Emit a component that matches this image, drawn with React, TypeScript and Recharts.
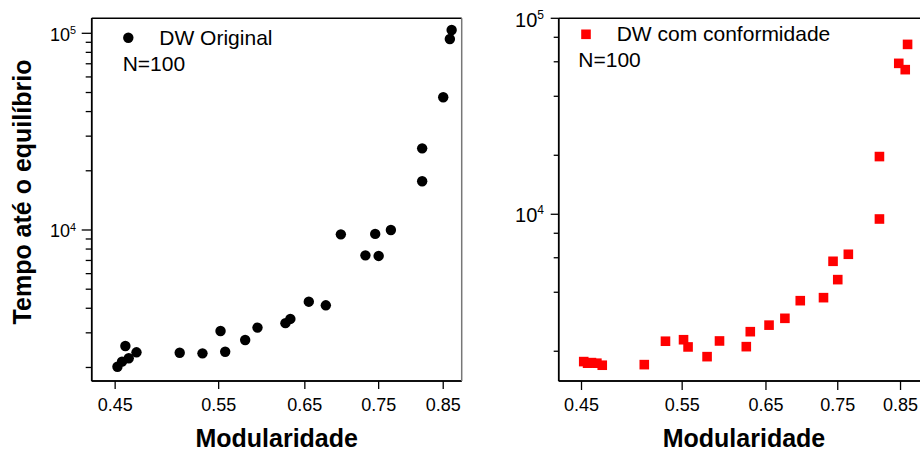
import React from 'react';
import { ScatterChart, Scatter, XAxis, YAxis } from 'recharts';

// ---- data ----
const xTicks = [0.45, 0.55, 0.65, 0.75, 0.85];
const leftYTicks = [2000, 3000, 4000, 5000, 6000, 7000, 8000, 9000, 10000, 20000, 30000, 40000, 50000, 60000, 70000, 80000, 90000, 100000];
const rightYTicks = [2000, 4000, 6000, 8000, 10000, 20000, 40000, 60000, 80000, 100000];

const originalX = [0.864, 0.861, 0.850, 0.816, 0.816, 0.768, 0.745, 0.697, 0.731, 0.750, 0.677, 0.655, 0.632, 0.626, 0.593, 0.579, 0.552, 0.557, 0.533, 0.510, 0.469, 0.459, 0.462, 0.456, 0.452];
const originalY = [104000, 93500, 47300, 26000, 17700, 10000, 9550, 9500, 7430, 7380, 4140, 4320, 3530, 3360, 3190, 2760, 3065, 2405, 2360, 2376, 2388, 2571, 2227, 2141, 2018];

const conformX = [0.862, 0.847, 0.858, 0.815, 0.815, 0.766, 0.743, 0.750, 0.729, 0.696, 0.675, 0.654, 0.630, 0.625, 0.5925, 0.578, 0.5515, 0.5565, 0.532, 0.510, 0.469, 0.464, 0.459, 0.4555, 0.452];
const conformY = [73600, 58900, 54700, 19700, 9460, 6250, 5755, 4640, 3754, 3623, 2945, 2718, 2517, 2111, 2257, 1877, 2290, 2104, 2250, 1709, 1697, 1738, 1750, 1738, 1771];

const leftData = originalX.map((x, i) => ({ x, y: originalY[i] }));
const rightData = conformX.map((x, i) => ({ x, y: conformY[i] }));

const FONT = '"Liberation Sans", Arial, Helvetica, sans-serif';

const isMajor = (v: number) => {
  const e = Math.log10(v);
  return Math.abs(e - Math.round(e)) < 1e-9;
};

const makeYTick = (axisX: number, majorLen: number, minorLen: number, fontSize: number, labelRight: number, supDy: number) => (props: any) => {
  const { y, payload } = props;
  const v = payload.value as number;
  const major = isMajor(v);
  const len = major ? majorLen : minorLen;
  return (
    <g>
      <line x1={axisX} x2={axisX - len} y1={y} y2={y} stroke="#000" strokeWidth={1.3} />
      {major && (
        <text x={labelRight} y={y + fontSize * 0.41} textAnchor="end" fontSize={fontSize} fontFamily={FONT} fill="#000">
          10
          <tspan dy={-fontSize * supDy} fontSize={fontSize * 0.6}>{Math.round(Math.log10(v))}</tspan>
        </text>
      )}
    </g>
  );
};

const makeXTick = (axisY: number, len: number, fontSize: number, labelY: number) => (props: any) => {
  const { x, payload } = props;
  return (
    <g>
      <line x1={x} x2={x} y1={axisY} y2={axisY + len} stroke="#000" strokeWidth={1.3} />
      <text x={x} y={labelY} textAnchor="middle" fontSize={fontSize} fontFamily={FONT} fill="#000">
        {(payload.value as number).toFixed(2)}
      </text>
    </g>
  );
};

const CircleShape = (props: any) => <circle cx={props.cx} cy={props.cy} r={5.2} fill="#000" />;
const SquareShape = (props: any) => <rect x={props.cx - 4.8} y={props.cy - 4.8} width={9.6} height={9.6} fill="#ff0000" />;

export default function App() {
  return (
    <div style={{ position: 'absolute', left: 0, top: 0, width: 920, height: 454, overflow: 'hidden', background: '#fff' }}>
      {/* Left panel */}
      <div style={{ position: 'absolute', left: 0, top: 0 }}>
        <ScatterChart width={470} height={454} margin={{ top: 18.3, right: 8.3, bottom: 0, left: 0 }}>
          <XAxis
            type="number"
            dataKey="x"
            scale="log"
            domain={[0.43, 0.881]}
            allowDataOverflow
            ticks={xTicks}
            interval={0}
            height={73}
            tickLine={false}
            axisLine={{ stroke: '#000', strokeWidth: 1.5 }}
            tick={makeXTick(381, 8, 18, 411)}
          />
          <YAxis
            type="number"
            dataKey="y"
            scale="log"
            domain={[1707, 119200]}
            allowDataOverflow
            ticks={leftYTicks}
            interval={0}
            width={91.7}
            tickLine={false}
            axisLine={{ stroke: '#000', strokeWidth: 1.5 }}
            tick={makeYTick(91.7, 10, 6, 18, 76, 0.38)}
          />
          <Scatter data={leftData} isAnimationActive={false} shape={CircleShape} />
        </ScatterChart>
      </div>

      {/* Right panel */}
      <div style={{ position: 'absolute', left: 460, top: 0 }}>
        <ScatterChart width={470} height={454} margin={{ top: 18.3, right: 6.4, bottom: 0, left: 0 }}>
          <XAxis
            type="number"
            dataKey="x"
            scale="log"
            domain={[0.43, 0.89]}
            allowDataOverflow
            ticks={xTicks}
            interval={0}
            height={73}
            tickLine={false}
            axisLine={{ stroke: '#000', strokeWidth: 1.5 }}
            tick={makeXTick(381, 9, 18, 411)}
          />
          <YAxis
            type="number"
            dataKey="y"
            scale="log"
            domain={[1410, 100000]}
            allowDataOverflow
            ticks={rightYTicks}
            interval={0}
            width={98.7}
            tickLine={false}
            axisLine={{ stroke: '#000', strokeWidth: 1.5 }}
            tick={makeYTick(98.7, 8, 5, 20, 84, 0.4)}
          />
          <Scatter data={rightData} isAnimationActive={false} shape={SquareShape} />
        </ScatterChart>
      </div>

      {/* Frames, titles and legends */}
      <svg width={920} height={454} style={{ position: 'absolute', left: 0, top: 0, pointerEvents: 'none' }}>
        {/* left frame */}
        <line x1={91.7} x2={461.7} y1={18.3} y2={18.3} stroke="#000" strokeWidth={1.5} />
        <line x1={91.7} x2={461.7} y1={381} y2={381} stroke="#000" strokeWidth={1.5} />
        <line x1={91.7} x2={91.7} y1={18.3} y2={381} stroke="#000" strokeWidth={1.5} />
        <line x1={461.7} x2={461.7} y1={18.3} y2={381} stroke="#777" strokeWidth={1.5} />
        {/* right frame */}
        <line x1={558.7} x2={920} y1={18.3} y2={18.3} stroke="#000" strokeWidth={1.5} />
        <line x1={558.7} x2={920} y1={381} y2={381} stroke="#000" strokeWidth={1.5} />
        <line x1={558.7} x2={558.7} y1={18.3} y2={381} stroke="#000" strokeWidth={1.5} />

        <text transform="translate(31,192) rotate(-90)" textAnchor="middle" fontSize={25} fontWeight="bold" fontFamily={FONT} fill="#000">
          Tempo até o equilíbrio
        </text>
        <text x={276.7} y={446.7} textAnchor="middle" fontSize={25} fontWeight="bold" fontFamily={FONT} fill="#000">Modularidade</text>
        <text x={744} y={446.7} textAnchor="middle" fontSize={25} fontWeight="bold" fontFamily={FONT} fill="#000">Modularidade</text>

        <circle cx={128.3} cy={37.7} r={5.2} fill="#000" />
        <text x={159.3} y={45} fontSize={21} fontFamily={FONT} fill="#000">DW Original</text>
        <text x={122.7} y={70.7} fontSize={21} fontFamily={FONT} fill="#000">N=100</text>

        <rect x={581.2} y={29.5} width={9.6} height={9.6} fill="#ff0000" />
        <text x={616.7} y={40.7} fontSize={21} fontFamily={FONT} fill="#000">DW com conformidade</text>
        <text x={578.3} y={67.3} fontSize={21} fontFamily={FONT} fill="#000">N=100</text>
      </svg>
    </div>
  );
}
